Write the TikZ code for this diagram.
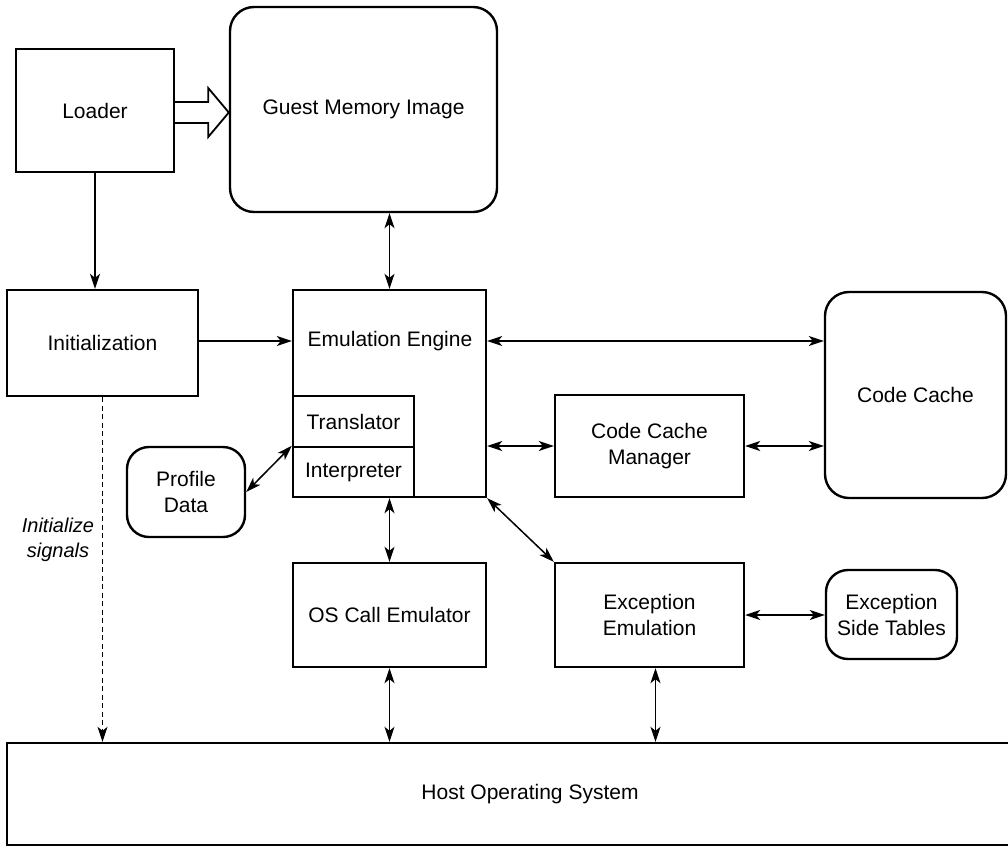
\documentclass[tikz,border=0pt]{standalone}
\usepackage{fontspec}
\setmainfont{Liberation Sans}
\usetikzlibrary{arrows.meta,calc}
\begin{document}
\begin{tikzpicture}[x=1pt,y=-1pt,
  box/.style={draw, line width=2.4pt, inner sep=0pt, align=center, font=\fontsize{21}{26}\selectfont},
  rbox/.style={box, rounded corners=24pt},
  txt/.style={inner sep=0pt, align=center, font=\fontsize{21}{26}\selectfont},
  both/.style={line width=1.5pt, {Stealth[length=15pt,width=10pt,inset=4pt]}-{Stealth[length=15pt,width=10pt,inset=4pt]}},
  one/.style={line width=1.5pt, -{Stealth[length=15pt,width=10pt,inset=4pt]}},
  hollow/.style={line width=1.8pt, line join=miter, fill=white}]
\useasboundingbox (0,0) rectangle (1008,846);
\fill[white] (0,0) rectangle (1008,846);

\node[box, minimum width=158pt, minimum height=123pt] (loader) at (95,110.5) {Loader};
\node[rbox, minimum width=267pt, minimum height=205pt] (gmi) at (363.5,109.5) {Guest Memory Image};
\node[box, minimum width=191pt, minimum height=106pt] (init) at (102.5,343) {Initialization};
\node[box, minimum width=193pt, minimum height=207pt] (ee) at (389.5,393.5) {};
\node[txt] (eelab) at (390,341) {Emulation Engine};
\node[box, minimum width=121pt, minimum height=51pt] (trans) at (353.5,421.5) {Translator};
\node[box, minimum width=121pt, minimum height=50pt] (interp) at (353.5,472) {Interpreter};
\node[rbox, minimum width=181pt, minimum height=206pt] (cc) at (915.5,395) {Code Cache};
\node[box, minimum width=189pt, minimum height=102pt] (ccm) at (649.5,446) {Code Cache\\Manager};
\node[rbox, rounded corners=22pt, minimum width=118pt, minimum height=90pt] (prof) at (186,492) {Profile\\Data};
\node[box, minimum width=193pt, minimum height=104pt] (osce) at (389.5,615) {OS Call Emulator};
\node[box, minimum width=189pt, minimum height=104pt] (exc) at (649.5,615) {Exception\\Emulation};
\node[rbox, rounded corners=22pt, minimum width=131pt, minimum height=89pt] (est) at (891.5,614.5) {Exception\\Side Tables};
\node[box, minimum width=1046pt, minimum height=102pt] (hos) at (530,794) {Host Operating System};
\node[txt, font=\fontsize{20}{25}\selectfont\itshape] (sig) at (58,540) {Initialize\\signals};

% hollow arrow Loader -> Guest Memory Image
\draw[hollow] ($(loader.east)+(0,-8.5)$) -- ++(33,0) -- ++(0,-14) -- ($(gmi.west)+(0,3)$) -- ($(loader.east)+(33,26.5)$) -- ++(0,-14) -- ++(-33,0);

\draw[one] (loader.south) -- (loader.south |- init.north);
\draw[one] (eelab -| init.east) -- (eelab -| ee.west);
\draw[both] (ee.north) -- (ee.north |- gmi.south);
\draw[both] (eelab -| ee.east) -- (eelab -| cc.west);
\draw[both] (ccm.west -| ee.east) -- (ccm.west);
\draw[both] (ccm.east) -- (ccm.east -| cc.west);
\draw[both] (prof.east) -- (interp.north west);
\draw[both] (ee.south) -- (osce.north);
\draw[both] (ee.south east) -- (exc.north west);
\draw[both] (exc.east) -- (exc.east -| est.west);
\draw[both] (osce.south) -- (osce.south |- hos.north);
\coordinate (ex) at ($(exc.south)+(6,0)$);
\draw[both] (ex) -- (ex |- hos.north);
\draw[one, line width=1.4pt, dash pattern=on 5pt off 3.5pt] (init.south) -- (init.south |- hos.north);
\end{tikzpicture}
\end{document}
